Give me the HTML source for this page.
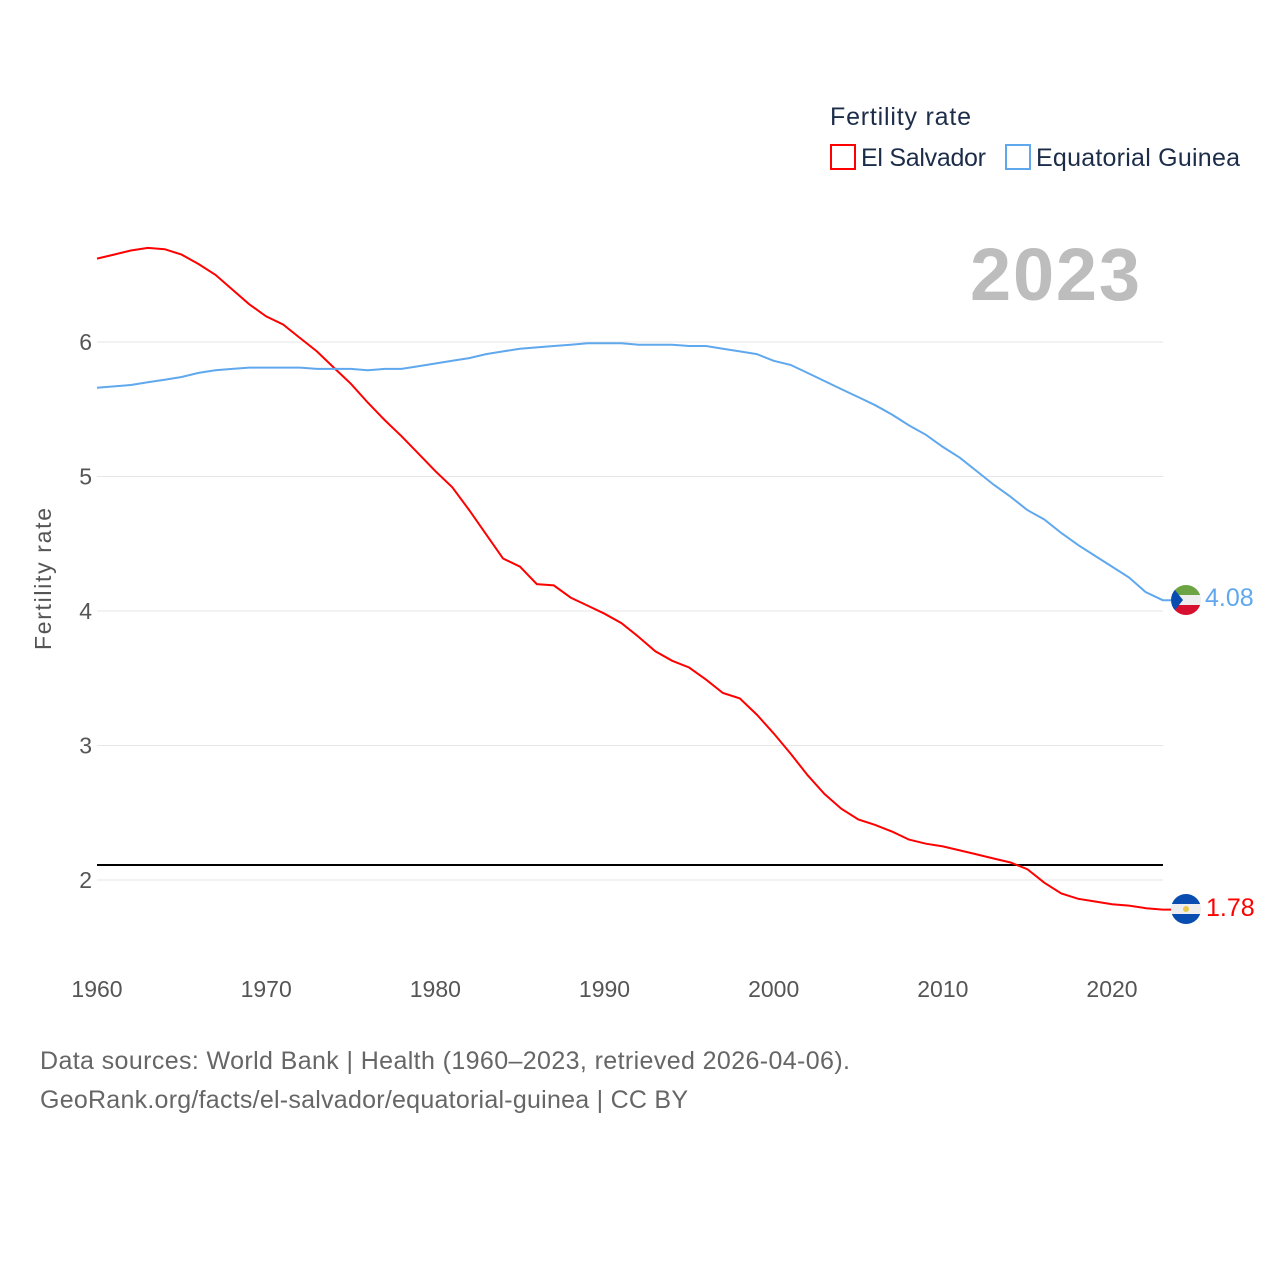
<!DOCTYPE html>
<html><head><meta charset="utf-8"><style>
html,body{margin:0;padding:0;background:#fff;}
svg text{font-family:"Liberation Sans",sans-serif;}
</style></head><body>
<svg width="1280" height="1280" viewBox="0 0 1280 1280">
<defs>
<clipPath id="c1"><circle cx="1186" cy="600" r="15"/></clipPath>
<clipPath id="c2"><circle cx="1186" cy="909" r="15"/></clipPath>
</defs>
<g id="grid"></g>
<g id="axes"></g>
<line x1="97" x2="1163" y1="865" y2="865" stroke="#000" stroke-width="2"/>
<path id="sv" fill="none" stroke="#ff0000" stroke-width="2"/>
<path id="eg" fill="none" stroke="#5fa8ee" stroke-width="2"/>
<text x="1140" y="300" text-anchor="end" font-size="74" font-weight="bold" fill="#bdbdbd" textLength="170">2023</text>
<text x="830" y="125" font-size="25" fill="#1c2d4a" textLength="141">Fertility rate</text>
<g>
<rect x="831" y="145" width="24" height="24" fill="none" stroke="#ff0000" stroke-width="2"/>
<text x="861" y="166" font-size="25" fill="#1c2d4a" textLength="125">El Salvador</text></g>
<g>
<rect x="1006" y="145" width="24" height="24" fill="none" stroke="#5fa8ee" stroke-width="2"/>
<text x="1036" y="166" font-size="25" fill="#1c2d4a" textLength="204">Equatorial Guinea</text></g>
<text transform="translate(51,579) rotate(-90)" text-anchor="middle" font-size="23" fill="#555" textLength="142">Fertility rate</text>
<g clip-path="url(#c1)">
<rect x="1171" y="585" width="30" height="10" fill="#6ca443"/><rect x="1171" y="595" width="30" height="10" fill="#eee"/><rect x="1171" y="605" width="30" height="10" fill="#d8102f"/>
<polygon points="1171,585 1183,600 1171,615" fill="#0a4db0"/></g>
<text x="1205" y="606" font-size="25" fill="#5fa8ee">4.08</text>
<g clip-path="url(#c2)">
<rect x="1171" y="894" width="30" height="10" fill="#0a4db0"/><rect x="1171" y="904" width="30" height="10" fill="#eee"/><rect x="1171" y="914" width="30" height="10" fill="#0a4db0"/>
<circle cx="1186" cy="909" r="3" fill="#e8c84a"/></g>
<text x="1206" y="916" font-size="25" fill="#ff0000">1.78</text>
<text x="40" y="1069" font-size="25" fill="#666" textLength="810">Data sources: World Bank | Health (1960–2023, retrieved 2026-04-06).</text>
<text x="40" y="1108" font-size="25" fill="#666" textLength="648">GeoRank.org/facts/el-salvador/equatorial-guinea | CC BY</text>
</svg>
<script>
const years=[];for(let y=1960;y<=2023;y++)years.push(y);
const elSalvador=[6.62,6.65,6.68,6.70,6.69,6.65,6.58,6.50,6.39,6.28,6.19,6.13,6.03,5.93,5.81,5.69,5.55,5.42,5.30,5.17,5.04,4.92,4.75,4.57,4.39,4.33,4.20,4.19,4.10,4.04,3.98,3.91,3.81,3.70,3.63,3.58,3.49,3.39,3.35,3.23,3.09,2.94,2.78,2.64,2.53,2.45,2.41,2.36,2.30,2.27,2.25,2.22,2.19,2.16,2.13,2.08,1.98,1.90,1.86,1.84,1.82,1.81,1.79,1.78];
const eqGuinea=[5.66,5.67,5.68,5.70,5.72,5.74,5.77,5.79,5.80,5.81,5.81,5.81,5.81,5.80,5.80,5.80,5.79,5.80,5.80,5.82,5.84,5.86,5.88,5.91,5.93,5.95,5.96,5.97,5.98,5.99,5.99,5.99,5.98,5.98,5.98,5.97,5.97,5.95,5.93,5.91,5.86,5.83,5.77,5.71,5.65,5.59,5.53,5.46,5.38,5.31,5.22,5.14,5.04,4.94,4.85,4.75,4.68,4.58,4.49,4.41,4.33,4.25,4.14,4.08];
const yTicks=[2,3,4,5,6];
const xTicks=[1960,1970,1980,1990,2000,2010,2020];
const X=y=>97+(y-1960)*(1015/60);
const Y=v=>880-(v-2)*134.5;
const NS="http://www.w3.org/2000/svg";
const grid=document.getElementById('grid'),axes=document.getElementById('axes');
yTicks.forEach(t=>{
 const l=document.createElementNS(NS,'line');
 l.setAttribute('x1',97);l.setAttribute('x2',1163);l.setAttribute('y1',Y(t));l.setAttribute('y2',Y(t));
 l.setAttribute('stroke','#e6e6e6');l.setAttribute('stroke-width','1');
 
 
 grid.appendChild(l);
 const tx=document.createElementNS(NS,'text');
 tx.setAttribute('x',92);tx.setAttribute('y',Y(t)+8);tx.setAttribute('text-anchor','end');
 tx.setAttribute('font-size','23');tx.setAttribute('fill','#555');tx.textContent=t;
 
 
 axes.appendChild(tx);
});
xTicks.forEach(t=>{
 const tx=document.createElementNS(NS,'text');
 tx.setAttribute('x',X(t));tx.setAttribute('y',997);tx.setAttribute('text-anchor','middle');
 tx.setAttribute('font-size','23');tx.setAttribute('fill','#555');tx.textContent=t;
 
 
 axes.appendChild(tx);
});
const path=arr=>arr.map((v,i)=>(i?'L':'M')+X(years[i]).toFixed(1)+','+Y(v).toFixed(1)).join('');
document.getElementById('sv').setAttribute('d',path(elSalvador)+'L1171,'+Y(elSalvador[63]).toFixed(1));
document.getElementById('eg').setAttribute('d',path(eqGuinea)+'L1171,'+Y(eqGuinea[63]).toFixed(1));
</script>
</body></html>
